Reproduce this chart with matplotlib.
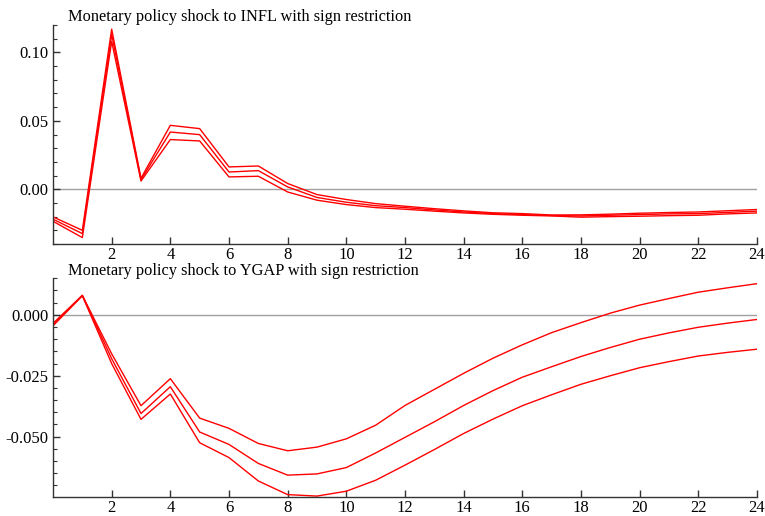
import numpy as np
import matplotlib
matplotlib.use("Agg")
import matplotlib.pyplot as plt
from matplotlib.ticker import MultipleLocator

# horizons 0..24
horizon = np.arange(25)

# INFL response: upper band, median, lower band
infl_upper = [-0.0202, -0.0300, 0.1170, 0.0080, 0.0467, 0.0443, 0.0163, 0.0170, 0.0042,
              -0.0039, -0.0075, -0.0105, -0.0124, -0.0142, -0.0158, -0.0172, -0.0178,
              -0.0188, -0.0187, -0.0182, -0.0175, -0.0170, -0.0166, -0.0157, -0.0148]
infl_mid = [-0.0219, -0.0324, 0.1130, 0.0070, 0.0418, 0.0399, 0.0126, 0.0136, 0.0017,
            -0.0060, -0.0095, -0.0120, -0.0134, -0.0151, -0.0166, -0.0178, -0.0185,
            -0.0192, -0.0195, -0.0190, -0.0185, -0.0180, -0.0178, -0.0169, -0.0160]
infl_lower = [-0.0234, -0.0353, 0.1080, 0.0060, 0.0363, 0.0353, 0.0090, 0.0095, -0.0020,
              -0.0080, -0.0112, -0.0134, -0.0146, -0.0160, -0.0173, -0.0183, -0.0190,
              -0.0195, -0.0204, -0.0200, -0.0197, -0.0193, -0.0190, -0.0180, -0.0173]

# YGAP response: upper band, median, lower band
ygap_upper = [-0.0035, 0.0080, -0.0160, -0.0373, -0.0262, -0.0424, -0.0466, -0.0528, -0.0558,
              -0.0543, -0.0509, -0.0453, -0.0372, -0.0306, -0.0240, -0.0178, -0.0123,
              -0.0073, -0.0032, 0.0007, 0.0040, 0.0067, 0.0093, 0.0111, 0.0128]
ygap_mid = [-0.0040, 0.0080, -0.0180, -0.0405, -0.0295, -0.0481, -0.0532, -0.0610, -0.0658,
            -0.0653, -0.0627, -0.0567, -0.0503, -0.0439, -0.0372, -0.0311, -0.0256,
            -0.0213, -0.0171, -0.0134, -0.0100, -0.0074, -0.0051, -0.0034, -0.0019]
ygap_lower = [-0.0045, 0.0078, -0.0200, -0.0429, -0.0325, -0.0525, -0.0586, -0.0682, -0.0738,
              -0.0744, -0.0724, -0.0679, -0.0617, -0.0553, -0.0487, -0.0428, -0.0373,
              -0.0328, -0.0285, -0.0250, -0.0217, -0.0192, -0.0169, -0.0154, -0.0141]

titles = ["Monetary policy shock to INFL with sign restriction",
          "Monetary policy shock to YGAP with sign restriction"]

plt.rcParams['font.family'] = ['Liberation Serif', 'DejaVu Serif']

fig = plt.figure(figsize=(7.65, 5.16), dpi=100)
ax1 = fig.add_axes([53/765, 1-244/516, 704/765, 219/516])
ax2 = fig.add_axes([53/765, 1-497.3/516, 704/765, 219/516])

panels = [
    (ax1, [infl_upper, infl_mid, infl_lower], (-0.04, 0.12), 0.05, 0.01, "%.2f"),
    (ax2, [ygap_upper, ygap_mid, ygap_lower], (-0.0749, 0.015), 0.025, 0.005, "%.3f"),
]

for i, (ax, series, ylim, major, minor, fmt) in enumerate(panels):
    ax.axhline(0, color='#a0a0a0', lw=1.0, zorder=1)
    for s in series:
        ax.plot(horizon, s, color='red', lw=1.0, zorder=2)
    ax.set_xlim(0, 24)
    ax.set_ylim(*ylim)
    ax.yaxis.set_major_locator(MultipleLocator(major))
    ax.yaxis.set_minor_locator(MultipleLocator(minor))
    ax.yaxis.set_major_formatter(matplotlib.ticker.FormatStrFormatter(fmt))
    ax.set_xticks(np.arange(2, 25, 2))
    ax.spines['top'].set_visible(False)
    ax.spines['right'].set_visible(False)
    for sp in ['left', 'bottom']:
        ax.spines[sp].set_color('#333333')
        ax.spines[sp].set_linewidth(1.0)
    ax.tick_params(axis='both', which='major', direction='in', length=5,
                   width=1.0, color='#333333', labelsize=12, pad=3)
    ax.tick_params(axis='x', which='major', pad=2)
    ax.tick_params(axis='y', which='minor', direction='in', length=3,
                   width=0.8, color='#333333')
    ax.set_facecolor('none')

fig.text(68/765, 1-17/516, titles[0], fontsize=11.75, va='center', ha='left')
fig.text(68/765, 1-271/516, titles[1], fontsize=11.75, va='center', ha='left')

fig.savefig("out.png", dpi=100)
